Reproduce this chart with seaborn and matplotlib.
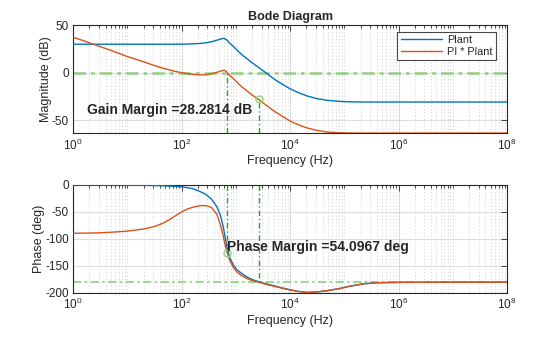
import matplotlib
matplotlib.use("Agg")
import numpy as np
import pandas as pd
import matplotlib.pyplot as plt
import matplotlib.ticker as mticker
import seaborn as sns

# ---------------- data ----------------
freq_hz = [1, 2, 3.16, 5, 10, 20, 31.6, 45, 63, 80, 100, 126, 158, 219, 282, 355, 447, 525, 589, 631,
           700, 776, 891, 1047, 1259, 1585, 1995, 2630, 3467, 5012, 7079, 10000,
           14125, 20417, 31623, 50119, 79433, 125893, 223872, 398107, 1e6, 1e7, 1e8]

plant_mag_db = [30, 30, 30, 30, 30, 30, 30, 30, 30, 30, 30.1, 30.2, 30.4, 30.8, 31.5, 32.6, 34.2, 35.5, 36.2, 35.8,
                34, 31, 28, 24, 19.5, 15, 10.5, 5.5, 0.5, -6.5, -12, -17,
                -21, -24.5, -27.5, -29.3, -30.3, -30.8, -31, -31, -31, -31, -31]

pi_plant_mag_db = [37.5, 31.5, 27.5, 23.5, 17, 11.5, 7.5, 4.8, 2.5, 1.1, 0, -1.0, -1.8, -2.4, -2.3, -1.3, 0.3, 1.7, 2.4, 2.2,
                   0, -3, -6, -10, -14.5, -19, -23.5, -28.3, -33.5, -40.3, -45.8, -51,
                   -55, -58.3, -61, -62.8, -63.4, -63.7, -63.8, -63.8, -63.8, -63.8, -63.8]

plant_phase_deg = [0, 0, 0, -0.1, -0.3, -0.6, -1, -1.4, -2, -2.7, -3.5, -4.8, -6.5, -12, -17.5, -26, -40, -57, -78, -95,
                   -119, -135, -147, -157, -163, -170, -175, -179, -182.5, -186.5, -190.5, -194,
                   -197, -198.8, -198, -195.5, -192, -187.5, -183, -181, -180.3, -180, -180]

pi_plant_phase_deg = [-89.5, -89, -88.5, -87.5, -85.5, -81.5, -77, -71, -63, -56, -50, -45, -41.5, -38.3, -38.2, -41.5, -54, -75, -95, -110,
                      -126, -140, -152, -161, -167.5, -173, -177, -180, -183.5, -187.5, -191, -194.5,
                      -197.3, -199, -198, -195.5, -192, -187.5, -183, -181, -180.3, -180, -180]

series_names = ["Plant", "PI * Plant"]

gain_margin_db = 28.2814
phase_margin_deg = 54.0967
gain_cross_hz = 700       # |L| = 0 dB
phase_cross_hz = 2630     # angle(L) = -180 deg
pm_phase_deg = -126

# ---------------- styling ----------------
sns.set_theme(style="white")
plt.rcParams["font.family"] = ["Liberation Sans", "DejaVu Sans"]
plt.rcParams["mathtext.fontset"] = "custom"
plt.rcParams["mathtext.rm"] = "Liberation Sans"
plt.rcParams["mathtext.it"] = "Liberation Sans:italic"
plt.rcParams["axes.unicode_minus"] = False

BLUE = "#0072BD"
ORANGE = "#D95319"
TXT = "#262626"
LGREEN = "#8fcf80"
DGREEN = "#2e9e2e"

n = len(freq_hz)
mag_df = pd.DataFrame({"freq": freq_hz * 2,
                       "value": plant_mag_db + pi_plant_mag_db,
                       "series": [series_names[0]] * n + [series_names[1]] * n})
ph_df = pd.DataFrame({"freq": freq_hz * 2,
                      "value": plant_phase_deg + pi_plant_phase_deg,
                      "series": [series_names[0]] * n + [series_names[1]] * n})

fig = plt.figure(figsize=(5.6, 3.37), dpi=100)
ax1 = fig.add_axes([0.1304, 0.6045, 0.775, 0.3205])
ax2 = fig.add_axes([0.1304, 0.1306, 0.775, 0.3205])

for ax in (ax1, ax2):
    ax.set_xscale("log")

sns.lineplot(data=mag_df, x="freq", y="value", hue="series", palette=[BLUE, ORANGE],
             linewidth=1.0, ax=ax1, legend=True, zorder=3)
sns.lineplot(data=ph_df, x="freq", y="value", hue="series", palette=[BLUE, ORANGE],
             linewidth=1.0, ax=ax2, legend=False, zorder=3)

ax1.set_ylim(-64, 50)
ax2.set_ylim(-200, 0)
ax1.set_yticks([-50, 0, 50])
ax2.set_yticks([-200, -150, -100, -50, 0])

major = [10.0 ** k for k in range(0, 9, 2)]
minor = [m * 10.0 ** k for k in range(0, 8) for m in range(1, 10) if m * 10.0 ** k not in major]

for ax in (ax1, ax2):
    ax.set_xlim(1, 1e8)
    ax.xaxis.set_major_locator(mticker.FixedLocator(major))
    ax.xaxis.set_minor_locator(mticker.FixedLocator(minor))
    ax.xaxis.set_major_formatter(mticker.LogFormatterSciNotation())
    ax.xaxis.set_minor_formatter(mticker.NullFormatter())
    ax.grid(True, which="major", axis="both", color="#dcdcdc", linewidth=0.8, linestyle="-", zorder=0)
    ax.grid(True, which="minor", axis="x", color="#d2d2d2", linewidth=0.6, linestyle=(0, (1.5, 2.5)), zorder=0)
    ax.tick_params(which="both", direction="in", top=True, right=True, colors=TXT,
                   labelsize=8.5, pad=3, width=0.6)
    ax.tick_params(which="major", length=4)
    ax.tick_params(which="minor", length=2)
    for s in ax.spines.values():
        s.set_color(TXT)
        s.set_linewidth(0.8)
    ax.set_xlabel("Frequency (Hz)", fontsize=9, color=TXT, labelpad=2)
    ax.set_axisbelow(True)

ax1.set_ylabel("Magnitude (dB)", fontsize=9, color=TXT, labelpad=0)
ax2.set_ylabel("Phase (deg)", fontsize=9, color=TXT, labelpad=0)
ax1.set_title("Bode Diagram", fontsize=9, fontweight="bold", color=TXT, pad=4)

# ---- margin annotations ----
ax1.axhline(0, color=LGREEN, linewidth=1.8, linestyle=(0, (5, 2, 1.5, 2)), zorder=2)
ax1.plot([gain_cross_hz, gain_cross_hz], [-64, 0], color=DGREEN, linewidth=1.0,
         linestyle=(0, (4, 2, 1, 2)), zorder=2)
ax1.plot([phase_cross_hz, phase_cross_hz], [-64, -gain_margin_db], color=DGREEN, linewidth=1.0,
         linestyle=(0, (4, 2, 1, 2)), zorder=2)
ax1.plot([phase_cross_hz], [-gain_margin_db], marker="o", markersize=5, markerfacecolor="none",
         markeredgecolor=LGREEN, markeredgewidth=1.0, zorder=4)
ax1.text(1.84, -39, f"Gain Margin ={gain_margin_db:.4f} dB", fontsize=10, fontweight="bold",
         color=TXT, ha="left", va="center", zorder=5)

ax2.axhline(-180, color=LGREEN, linewidth=1.2, linestyle=(0, (5, 2, 1.5, 2)), zorder=2)
ax2.plot([gain_cross_hz, gain_cross_hz], [0, pm_phase_deg], color=DGREEN, linewidth=1.0,
         linestyle=(0, (4, 2, 1, 2)), zorder=2)
ax2.plot([phase_cross_hz, phase_cross_hz], [0, -180], color=DGREEN, linewidth=1.0,
         linestyle=(0, (4, 2, 1, 2)), zorder=2)
ax2.plot([gain_cross_hz], [pm_phase_deg], marker="o", markersize=5, markerfacecolor="none",
         markeredgecolor=LGREEN, markeredgewidth=1.0, zorder=4)
ax2.text(gain_cross_hz, -115, f"Phase Margin ={phase_margin_deg:.4f} deg", fontsize=10,
         fontweight="bold", color=TXT, ha="left", va="center", zorder=5)

# ---- legend ----
handles, labels = ax1.get_legend_handles_labels()
leg = ax1.legend(handles, labels, loc="upper right", bbox_to_anchor=(0.9747, 0.938),
                 borderaxespad=0, fontsize=7.8, frameon=True, fancybox=False,
                 handlelength=3.8, handletextpad=0.5, borderpad=0.3, labelspacing=0.15)
leg.get_frame().set_edgecolor("#1a1a1a")
leg.get_frame().set_linewidth(0.8)
for t in leg.get_texts():
    t.set_color(TXT)

fig.savefig("out.png", dpi=100, facecolor="white")
